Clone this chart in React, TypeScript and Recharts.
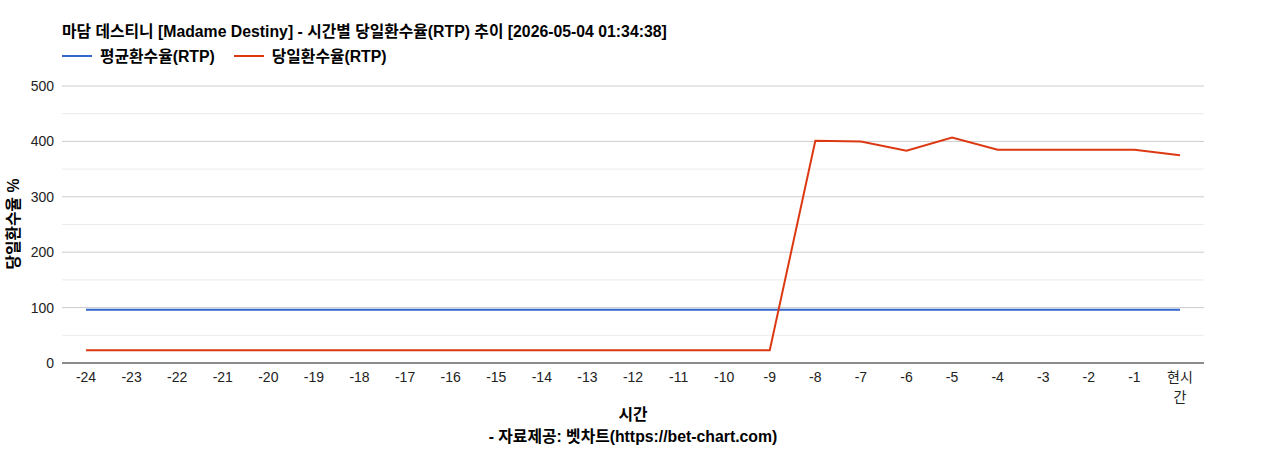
import React from 'react';
import { LineChart, Line, XAxis, YAxis, CartesianGrid, ReferenceLine, Label } from 'recharts';

const TITLE = '마담 데스티니 [Madame Destiny] - 시간별 당일환수율(RTP) 추이 [2026-05-04 01:34:38]';
const categories = ['-24','-23','-22','-21','-20','-19','-18','-17','-16','-15','-14','-13','-12','-11','-10','-9','-8','-7','-6','-5','-4','-3','-2','-1','현시간'];
const avgRtp = [96,96,96,96,96,96,96,96,96,96,96,96,96,96,96,96,96,96,96,96,96,96,96,96,96];
const dayRtp = [23,23,23,23,23,23,23,23,23,23,23,23,23,23,23,23,401,400,383,407,385,385,385,385,375];
const yTicks = [0,100,200,300,400,500];
const minorTicks = [50,150,250,350,450];
const seriesNames = ['평균환수율(RTP)', '당일환수율(RTP)'];
const seriesColors = ['#3366cc', '#dc3912'];
const yLabel = '당일환수율 %';
const xLabel = '시간';
const sourceLabel = '- 자료제공: 벳차트(https://bet-chart.com)';

const data = categories.map((c, i) => ({ t: c, avg: avgRtp[i], day: dayRtp[i] }));

const FONT = 'Arial, "Liberation Sans", "Noto Sans CJK KR", sans-serif';
const BOLD_SIZE = 15.8;

const XTick = (props: any) => {
  const { x, y, payload } = props;
  const v: string = String(payload.value);
  const lines = /^-?\d+$/.test(v) ? [v] : [v.slice(0, 2), v.slice(2)];
  return (
    <text x={x} y={y + 1} textAnchor="middle" fill="#222" fontSize={14} fontFamily={FONT}>
      {lines.map((l, i) => (
        <tspan key={i} x={x} dy={i === 0 ? '0.71em' : 20}>{l}</tspan>
      ))}
    </text>
  );
};

export default function App() {
  return (
    <div style={{ position: 'absolute', left: 0, top: 0, width: 1268, height: 450, background: '#fff', fontFamily: FONT }}>
      <div style={{ position: 'absolute', left: 62, top: 19, fontSize: BOLD_SIZE, fontWeight: 'bold', color: '#000', whiteSpace: 'nowrap' }}>{TITLE}</div>
      <div style={{ position: 'absolute', left: 62, top: 44, display: 'flex', fontSize: BOLD_SIZE, fontWeight: 'bold', color: '#000' }}>
        {seriesNames.map((n, i) => (
          <div key={n} style={{ display: 'flex', alignItems: 'center', marginRight: 19 }}>
            <div style={{ width: 30, height: 2, background: seriesColors[i], marginRight: 8 }} />
            <span>{n}</span>
          </div>
        ))}
      </div>
      <LineChart width={1268} height={450} data={data} margin={{ top: 86, right: 64, bottom: 57, left: 0 }} style={{ position: 'absolute', left: 0, top: 0 }}>
        <CartesianGrid vertical={false} stroke="#cccccc" strokeDasharray="" />
        {minorTicks.map((v) => (
          <ReferenceLine key={v} y={v} stroke="#ebebeb" strokeWidth={1} />
        ))}
        <XAxis dataKey="t" height={30} padding={{ left: 24, right: 24 }} tickLine={false} axisLine={{ stroke: '#333' }} tick={<XTick />} interval={0}>
          <Label
            content={() => (
              <g>
                <text x={633} y={420} textAnchor="middle" fontSize={BOLD_SIZE} fontWeight="bold" fill="#000" fontFamily={FONT}>{xLabel}</text>
                <text x={633} y={442} textAnchor="middle" fontSize={BOLD_SIZE} fontWeight="bold" fill="#000" fontFamily={FONT}>{sourceLabel}</text>
              </g>
            )}
          />
        </XAxis>
        <YAxis width={62} domain={[0, 500]} ticks={yTicks} tickLine={false} axisLine={false} tick={{ fill: '#222', fontSize: 14, fontFamily: FONT }} tickMargin={2}>
          <Label
            content={() => (
              <text x={19} y={224} transform="rotate(-90 19 224)" textAnchor="middle" fontSize={BOLD_SIZE} fontWeight="bold" fill="#000" fontFamily={FONT}>{yLabel}</text>
            )}
          />
        </YAxis>
        <Line dataKey="avg" stroke={seriesColors[0]} strokeWidth={2} dot={false} isAnimationActive={false} />
        <Line dataKey="day" stroke={seriesColors[1]} strokeWidth={2} dot={false} isAnimationActive={false} />
      </LineChart>
    </div>
  );
}
